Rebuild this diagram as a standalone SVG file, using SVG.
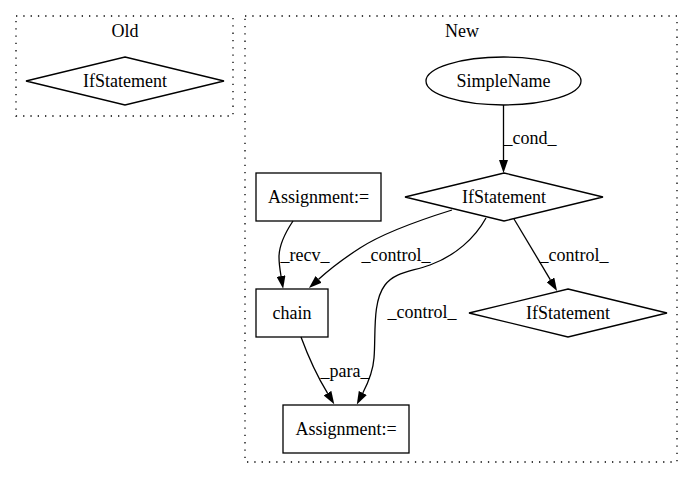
<svg xmlns="http://www.w3.org/2000/svg" width="693" height="480" viewBox="0 0 693 480">
<style>
text{font-family:"Liberation Serif","Times New Roman",serif;font-size:18px;text-anchor:middle;fill:#000}
.cl{fill:none;stroke:#000;stroke-width:1.3;stroke-dasharray:1.3,6}
.nd{fill:#fff;stroke:#000;stroke-width:1.3}
.ed{fill:none;stroke:#000;stroke-width:1.3;marker-end:url(#ah)}
</style>
<defs>
<marker id="ah" viewBox="0 0 13 9" markerWidth="13" markerHeight="9" refX="0" refY="4.5" orient="auto" markerUnits="userSpaceOnUse">
<path d="M0,0 L13,4.5 L0,9 z" fill="#000"/>
</marker>
</defs>
<rect width="693" height="480" fill="#fff"/>
<g id="cluster_old">
<rect class="cl" x="16" y="16" width="217" height="100"/>
<text x="125" y="37">Old</text>
</g>
<g id="cluster_new">
<rect class="cl" x="245" y="16" width="432" height="446"/>
<text x="462" y="37">New</text>
</g>
<g id="old_if">
<polygon class="nd" points="125,57 224,81 125,105 26,81"/>
<text x="125" y="86.5">IfStatement</text>
</g>
<g id="simplename">
<ellipse class="nd" cx="503.5" cy="81" rx="77.5" ry="24"/>
<text x="503.5" y="86.5">SimpleName</text>
</g>
<g id="if_main">
<polygon class="nd" points="504,173 603,197 504,221 405,197"/>
<text x="504" y="202.5">IfStatement</text>
</g>
<g id="assign_top">
<rect class="nd" x="256" y="173" width="125" height="48"/>
<text x="318.5" y="203">Assignment:=</text>
</g>
<g id="chain">
<rect class="nd" x="256" y="289" width="72" height="48"/>
<text x="292" y="318.5">chain</text>
</g>
<g id="if_right">
<polygon class="nd" points="568,289 667,313 568,337 469,313"/>
<text x="568" y="318.5">IfStatement</text>
</g>
<g id="assign_bottom">
<rect class="nd" x="283" y="405" width="126" height="48"/>
<text x="346" y="434.5">Assignment:=</text>
</g>
<g id="connectors">
<path class="ed" d="M503.5,105 L503.5,160"/>
<text x="530" y="144">_cond_</text>
<path class="ed" d="M293,221 C285,233 279,246 279,257 C279,263 280,270 281,276"/>
<text x="305" y="261">_recv_</text>
<path class="ed" d="M452,210 C420,220 383,233 360,248 C346,257 331,268 318.6,279.3"/>
<text x="396" y="261">_control_</text>
<path class="ed" d="M486,218 C475,238 455,256 430,265 C410,272 395,272 385,285 C372,302 376,335 374,358 C373,372 368,383 362.8,393"/>
<text x="422" y="318">_control_</text>
<path class="ed" d="M514,219 L550.4,279.8"/>
<text x="574" y="261">_control_</text>
<path class="ed" d="M301,337 C308,356 317,376 327.5,393.2"/>
<text x="345" y="377">_para_</text>
</g>
</svg>
